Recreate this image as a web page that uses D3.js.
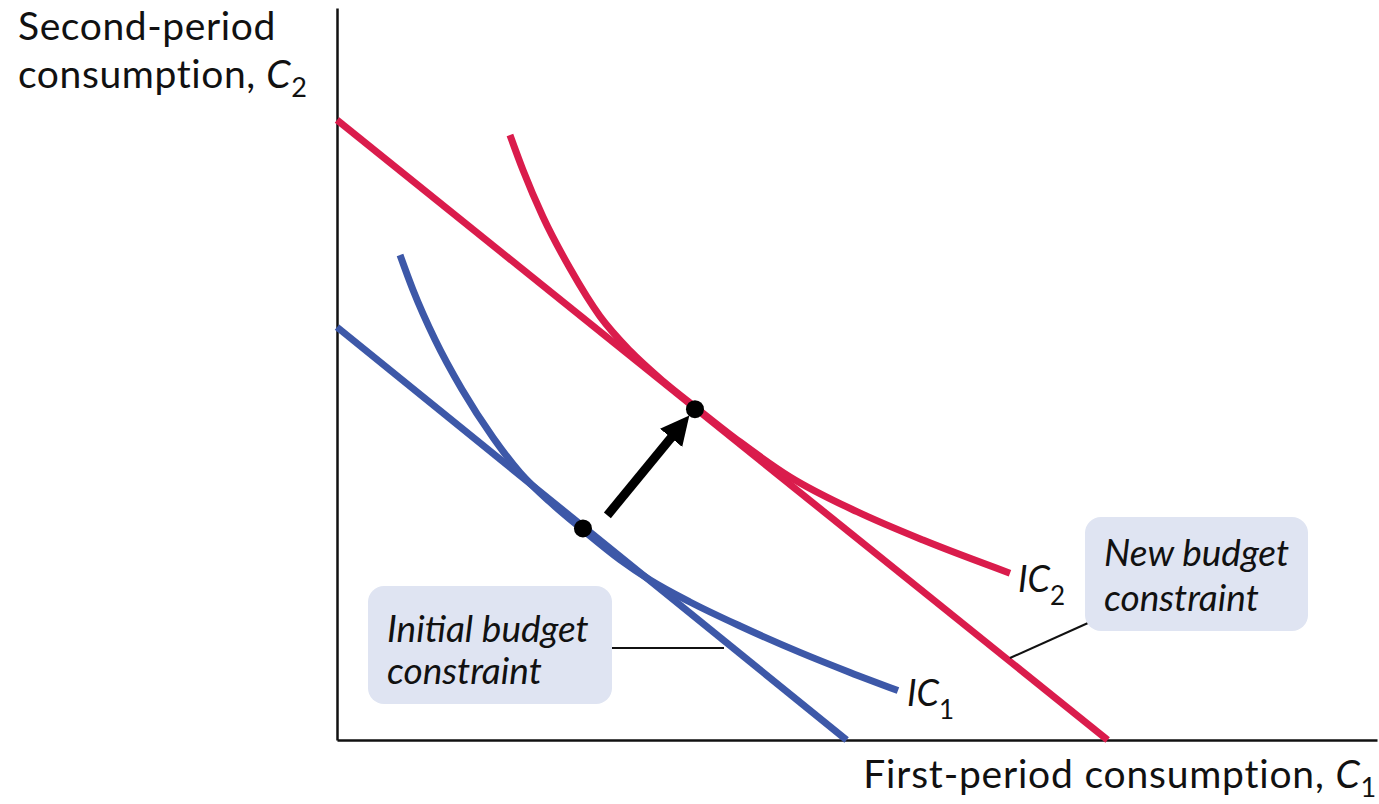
<!DOCTYPE html>
<html>
<head>
<meta charset="utf-8">
<script src="https://cdn.jsdelivr.net/npm/d3@7"></script>
<style>
  html, body { margin: 0; padding: 0; background: #ffffff; }
  svg { display: block; }
  text { font-family: Lato, "Open Sans", sans-serif; fill: #111; }
</style>
</head>
<body>
<svg id="chart" width="1379" height="804"></svg>
<script>
// ---------- data (abstract units) ----------
const initialBudget = [[0, 56.4], [49.0, 0]];
const newBudget = [[0, 84.7], [74.1, 0]];
const ic1 = [[6.06, 66.26], [7.31, 61.48], [9.42, 54.71], [12.02, 47.88], [15.0, 41.33], [17.6, 36.53],
             [20.48, 32.51], [23.65, 28.69], [27.21, 24.64], [30.10, 21.86], [33.94, 18.85],
             [38.75, 15.57], [44.52, 11.97], [49.33, 9.23], [53.94, 6.75]];
const ic2 = [[16.63, 82.65], [17.88, 77.87], [19.81, 71.45], [22.40, 64.44], [25.29, 57.88],
             [28.17, 53.17], [31.35, 49.02], [34.42, 45.52], [38.75, 40.72], [43.56, 35.94],
             [50.00, 31.19], [56.35, 27.31], [64.71, 22.79]];
const optimumPoints = [[23.65, 28.9], [34.42, 45.2]];
const arrowSegment = [[26.0, 30.7], [33.0, 42.8]];
const axisTitles = { y: ["Second-period", "consumption, "], x: "First-period consumption, " };

// ---------- scales ----------
const x = d3.scaleLinear().domain([0, 100]).range([337, 1377]);
const y = d3.scaleLinear().domain([0, 100]).range([740, 8]);

const RED = "#da1c4c", BLUE = "#3d58a8", BOX = "#dfe4f2";
const svg = d3.select("#chart");

const defs = svg.append("defs");
defs.append("marker").attr("id", "ah").attr("viewBox", "0 0 10 10")
  .attr("refX", 5).attr("refY", 5).attr("markerWidth", 3.2).attr("markerHeight", 3.2)
  .attr("markerUnits", "strokeWidth").attr("orient", "auto")
  .append("path").attr("d", "M0,0 L10,5 L0,10 Z").attr("fill", "#000");

// ---------- axes ----------
const xAxis = d3.axisBottom(x).tickValues([]).tickSizeOuter(0);
const yAxis = d3.axisLeft(y).tickValues([]).tickSizeOuter(0);
svg.append("g").attr("transform", `translate(0,${y(0)})`).call(xAxis)
  .select(".domain").attr("stroke", "#111").attr("stroke-width", 2.5);
svg.append("g").attr("transform", `translate(${x(0)},0)`).call(yAxis)
  .select(".domain").attr("stroke", "#111").attr("stroke-width", 2.5);

// ---------- lines ----------
const straight = d3.line().x(d => x(d[0])).y(d => y(d[1]));
const curve = d3.line().x(d => x(d[0])).y(d => y(d[1])).curve(d3.curveMonotoneX);

const lineG = svg.append("g").attr("fill", "none").attr("stroke-width", 7);
lineG.append("path").attr("d", straight(initialBudget)).attr("stroke", BLUE);
lineG.append("path").attr("d", curve(ic1)).attr("stroke", BLUE);
lineG.append("path").attr("d", straight(newBudget)).attr("stroke", RED);
lineG.append("path").attr("d", curve(ic2)).attr("stroke", RED);

// arrow
svg.append("path").attr("d", straight(arrowSegment))
  .attr("stroke", "#000").attr("stroke-width", 9).attr("fill", "none")
  .attr("marker-end", "url(#ah)");

// points
svg.selectAll("circle.pt").data(optimumPoints).join("circle")
  .attr("class", "pt").attr("cx", d => x(d[0])).attr("cy", d => y(d[1]))
  .attr("r", 9).attr("fill", "#000");

// ---------- annotation boxes ----------
function box(bx, by, bw, bh, lines, leader) {
  svg.append("line").attr("x1", leader[0]).attr("y1", leader[1])
    .attr("x2", leader[2]).attr("y2", leader[3]).attr("stroke", "#111").attr("stroke-width", 2);
  svg.append("rect").attr("x", bx).attr("y", by).attr("width", bw).attr("height", bh)
    .attr("rx", 16).attr("fill", BOX);
  lines.forEach(l => {
    svg.append("text").attr("x", l[0]).attr("y", l[1]).text(l[2])
      .attr("font-size", 37).attr("font-style", "italic");
  });
}
box(368, 586, 244, 118, [[387, 642, "Initial budget"], [387, 684, "constraint"]], [612, 648, 724, 648]);
box(1085, 517, 223, 114, [[1104, 566, "New budget"], [1104, 611, "constraint"]], [1088, 623, 1010, 658]);

// ---------- IC labels ----------
function icLabel(lx, ly, sub) {
  const t = svg.append("text").attr("x", lx).attr("y", ly).attr("font-size", 36).attr("font-style", "italic");
  t.append("tspan").text("IC");
  t.append("tspan").text(sub).attr("font-style", "normal").attr("font-size", 26).attr("dy", 13);
}
icLabel(907, 706, "1");
icLabel(1018, 592, "2");

// ---------- axis titles ----------
const yl1 = svg.append("text").attr("x", 18).attr("y", 40).attr("font-size", 39).attr("letter-spacing", 0.6);
yl1.text(axisTitles.y[0]);
const yl2 = svg.append("text").attr("x", 18).attr("y", 88).attr("font-size", 39).attr("letter-spacing", 0.6);
yl2.append("tspan").text(axisTitles.y[1]);
yl2.append("tspan").text("C").attr("font-style", "italic");
yl2.append("tspan").text("2").attr("font-size", 27).attr("dy", 9);

const xt = svg.append("text").attr("x", 1377).attr("y", 788).attr("font-size", 39)
  .attr("letter-spacing", 0.8).attr("text-anchor", "end");
xt.append("tspan").text(axisTitles.x);
xt.append("tspan").text("C").attr("font-style", "italic");
xt.append("tspan").text("1").attr("font-size", 27).attr("dy", 9);
</script>
</body>
</html>
